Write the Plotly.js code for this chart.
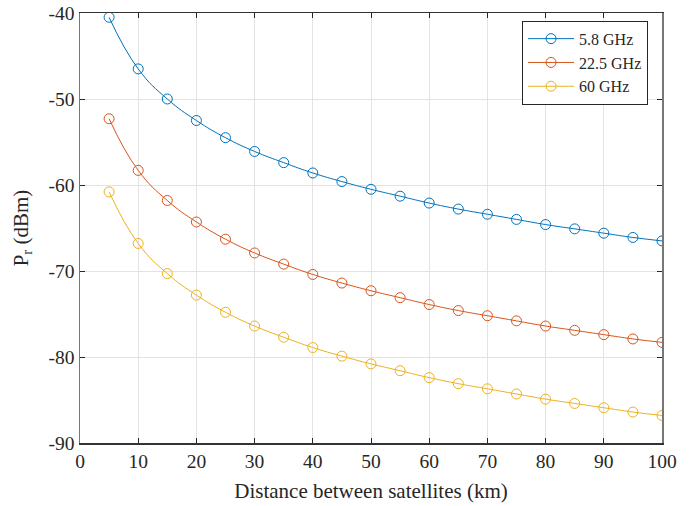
<!DOCTYPE html>
<html>
<head>
<meta charset="utf-8">
<script src="https://cdn.plot.ly/plotly-3.0.1.min.js"></script>
<style>html,body{margin:0;padding:0;background:#fff;}#chart{width:692px;height:506px;}</style>
</head>
<body>
<div id="chart"></div>
<script>
const distance = [5,10,15,20,25,30,35,40,45,50,55,60,65,70,75,80,85,90,95,100];
const pr58 = [-40.5,-46.5,-50.0,-52.5,-54.5,-56.1,-57.4,-58.6,-59.6,-60.5,-61.3,-62.1,-62.8,-63.4,-64.0,-64.6,-65.1,-65.6,-66.1,-66.5];
const pr225 = [-52.3,-58.3,-61.8,-64.3,-66.3,-67.9,-69.2,-70.4,-71.4,-72.3,-73.1,-73.9,-74.6,-75.2,-75.8,-76.4,-76.9,-77.4,-77.9,-78.3];
const pr60 = [-60.8,-66.8,-70.3,-72.8,-74.8,-76.4,-77.7,-78.9,-79.9,-80.8,-81.6,-82.4,-83.1,-83.7,-84.3,-84.9,-85.4,-85.9,-86.4,-86.8];
const seriesNames = ['5.8 GHz','22.5 GHz','60 GHz'];
const colors = ['#0072BD','#D95319','#EDB120'];
const xTicks = [0,10,20,30,40,50,60,70,80,90,100];
const yTicks = [-90,-80,-70,-60,-50,-40];

const data = [pr58, pr225, pr60].map((ys, i) => ({
  x: distance, y: ys, name: seriesNames[i], type: 'scatter', mode: 'lines+markers',
  line: {color: colors[i], width: 1, shape: 'spline', smoothing: 1.3},
  marker: {symbol: 'circle-open', size: 10, color: colors[i], line: {width: 1, color: colors[i]}}
}));

const font = {family: 'Liberation Serif, Times New Roman, serif', color: '#262626'};
const layout = {
  width: 692, height: 506,
  margin: {l: 80, r: 30, t: 13, b: 63},
  paper_bgcolor: '#fff', plot_bgcolor: '#fff',
  font: Object.assign({size: 17}, font),
  showlegend: true,
  legend: {x: 0.976, y: 0.982, xanchor: 'right', yanchor: 'top', bgcolor: '#fff',
    bordercolor: '#262626', borderwidth: 1, font: Object.assign({size: 16}, font),
    tracegroupgap: 0, itemwidth: 46},
  xaxis: {range: [0, 100], tickvals: xTicks, ticktext: xTicks.map(String), ticks: 'inside', ticklen: 5,
    tickcolor: '#262626', showline: true, linecolor: '#333', linewidth: 1.5, mirror: 'ticks',
    showgrid: true, gridcolor: '#e3e3e3', zeroline: false,
    tickfont: Object.assign({size: 19.5}, font),
    title: {text: 'Distance between satellites (km)', font: Object.assign({size: 21}, font), standoff: 12}},
  yaxis: {range: [-90, -40], tickvals: yTicks, ticktext: yTicks.map(String), ticks: 'inside', ticklen: 5,
    tickcolor: '#262626', showline: true, linecolor: '#777', linewidth: 1.5, mirror: 'ticks',
    showgrid: true, gridcolor: '#e3e3e3', zeroline: false,
    tickfont: Object.assign({size: 19.5}, font),
    title: {text: 'P<sub>r</sub> (dBm)', font: Object.assign({size: 21}, font), standoff: 14}}
};
Plotly.newPlot('chart', data, layout, {staticPlot: true, displayModeBar: false});
</script>
</body>
</html>
